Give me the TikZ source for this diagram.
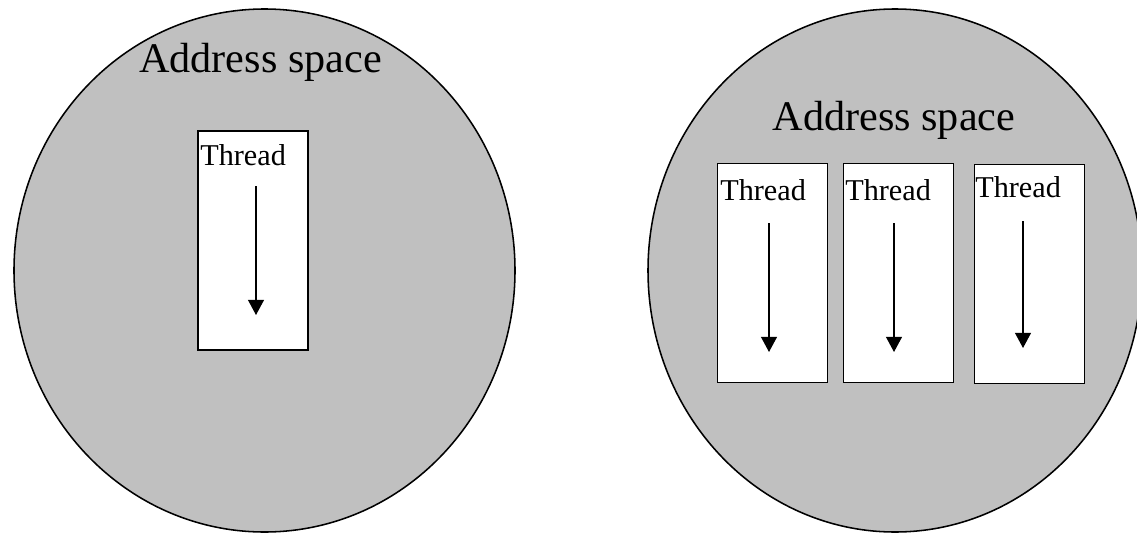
\documentclass[tikz,border=0pt]{standalone}
\usepackage{fontspec}
\setmainfont{Liberation Serif}
\usetikzlibrary{arrows.meta}
\definecolor{spacegray}{RGB}{192,192,192}
\tikzset{
  space/.style={draw, fill=spacegray, line width=1.1pt},
  threadbox/.style={draw, fill=white, line width=1pt, inner sep=0pt, minimum width=2.75cm, minimum height=5.48cm},
  flow/.style={line width=0.9pt, -{Triangle[width=0.4cm, length=0.38cm]}},
  spacelabel/.style={font=\fontsize{30}{36}\selectfont, inner sep=0pt, anchor=base},
  threadlabel/.style={font=\fontsize{21.5}{26}\selectfont, inner sep=0pt, anchor=base west}
}
\begin{document}
\begin{tikzpicture}[x=0.025cm, y=-0.025cm]
  \useasboundingbox (0,0) rectangle (1137,533);
  \clip (0,0) rectangle (1137,533);
  % single thread
  \draw[space] (264.5,270.5) ellipse [x radius=250.5, y radius=261.5];
  \node[spacelabel] (lspace) at (260.5,72) {Address space};
  \node[threadbox] (lbox) at (253,240.5) {};
  \node[threadlabel] (lthread) at (200,165) {Thread};
  \coordinate (lstart) at (256,186);
  \coordinate (lend) at (256,315);
  \draw[flow] (lstart) -- (lend);
  % three threads
  \draw[space] (895,270.5) ellipse [x radius=247, y radius=261.5];
  \node[spacelabel] (rspace) at (894,130) {Address space};
  \node[threadbox] (rboxa) at (772.5,273) {};
  \node[threadbox] (rboxb) at (898.5,273) {};
  \node[threadbox] (rboxc) at (1029.5,274) {};
  \node[threadlabel] (rthreada) at (720,200) {Thread};
  \node[threadlabel] (rthreadb) at (845,200) {Thread};
  \node[threadlabel] (rthreadc) at (975,197) {Thread};
  \coordinate (astart) at (769,223);
  \coordinate (aend) at (769,352);
  \coordinate (bstart) at (894,223);
  \coordinate (bend) at (894,352);
  \coordinate (cstart) at (1023,221);
  \coordinate (cend) at (1023,348);
  \draw[flow] (astart) -- (aend);
  \draw[flow] (bstart) -- (bend);
  \draw[flow] (cstart) -- (cend);
\end{tikzpicture}
\end{document}
